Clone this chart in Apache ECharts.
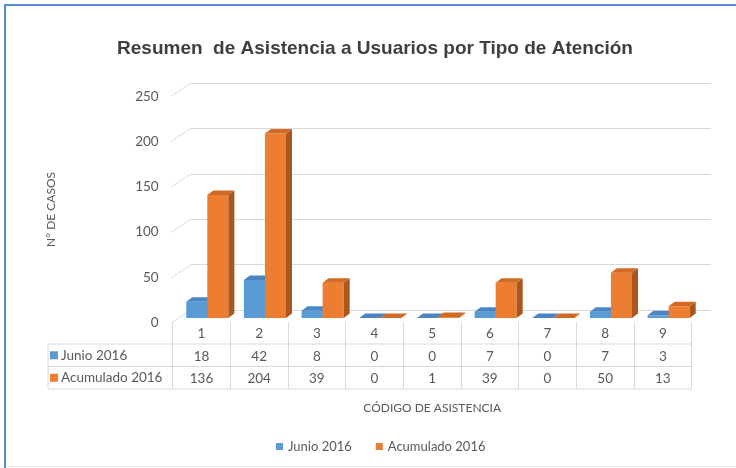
<!DOCTYPE html>
<html>
<head>
<meta charset="utf-8">
<script src="https://cdn.jsdelivr.net/npm/echarts@6/dist/echarts.min.js"></script>
<style>
  html, body { margin: 0; padding: 0; background: #fff; }
  #chart { width: 736px; height: 468px; }
</style>
</head>
<body>
<div id="chart"></div>
<script>
const codigos = ["1", "2", "3", "4", "5", "6", "7", "8", "9"];
const seriesNames = ["Junio 2016", "Acumulado 2016"];
const junio = [18, 42, 8, 0, 0, 7, 0, 7, 3];
const acumulado = [136, 204, 39, 0, 1, 39, 0, 50, 13];
const yTicks = [0, 50, 100, 150, 200, 250];

const faceColors = [
  { front: "#5b9bd5", top: "#4a86c4", side: "#3e6f9f" },
  { front: "#ed7d31", top: "#d06a25", side: "#a9561f" },
];
const textColor = "#595959";
const gridColor = "#d9d9d9";

// perspectiva 3D (desplazamiento de profundidad)
const DX = 6, DY = -4.5;

function bar3d(sIdx) {
  return function (params, api) {
    const i = api.value(0), v = api.value(1);
    const base = api.coord([i, 0]);
    const top = api.coord([i, v]);
    const bw = api.size([1, 0])[0];
    const w = bw * 0.365;
    const x0 = base[0] - bw * 0.265 + sIdx * w;
    const x1 = x0 + w;
    const c = faceColors[sIdx];
    return {
      type: "group",
      children: [
        { type: "rect", shape: { x: x0, y: top[1], width: w, height: base[1] - top[1] }, style: { fill: c.front } },
        { type: "polygon", shape: { points: [[x1, top[1]], [x1 + DX, top[1] + DY], [x1 + DX, base[1] + DY], [x1, base[1]]] }, style: { fill: c.side } },
        { type: "polygon", shape: { points: [[x0, top[1]], [x1, top[1]], [x1 + DX, top[1] + DY], [x0 + DX, top[1] + DY]] }, style: { fill: c.top } },
      ],
    };
  };
}

// líneas diagonales de la pared izquierda
function wallLine(params, api) {
  const p = api.coord([0, api.value(0)]);
  return {
    type: "line",
    shape: { x1: p[0] - 19.5, y1: p[1] + 13, x2: p[0], y2: p[1] },
    style: { stroke: gridColor, lineWidth: 1 },
  };
}

const tableLeft = 48, tableRight = 691.7;
const rowY = [344, 366.5, 389];

const graphics = [
  // marco azul
  { type: "rect", shape: { x: 5, y: 5, width: 740, height: 470 }, style: { fill: null, stroke: "#5a8bd0", lineWidth: 2 } },
  { type: "line", shape: { x1: 6, y1: 466.5, x2: 736, y2: 466.5 }, style: { stroke: "#e8e8e8", lineWidth: 1 } },
  { type: "line", shape: { x1: tableLeft, y1: rowY[0], x2: tableLeft, y2: rowY[2] }, style: { stroke: gridColor } },
];
rowY.forEach((y) => {
  graphics.push({ type: "line", shape: { x1: tableLeft, y1: y, x2: tableRight, y2: y }, style: { stroke: gridColor } });
});
seriesNames.forEach((name, k) => {
  const cy = (rowY[k] + rowY[k + 1]) / 2;
  graphics.push({ type: "rect", shape: { x: 50, y: cy - 4, width: 8, height: 8 }, style: { fill: faceColors[k].front } });
  graphics.push({
    type: "text", x: 61, y: cy,
    style: { text: name, fill: textColor, font: "13.5px Lato", verticalAlign: "middle" },
  });
});

const chart = echarts.init(document.getElementById("chart"));
chart.setOption({
  backgroundColor: "#fff",
  animation: false,
  title: {
    text: "Resumen  de Asistencia a Usuarios por Tipo de Atención",
    left: 370, top: 34, textAlign: "center",
    textStyle: { fontFamily: "Liberation Sans", fontSize: 19, fontWeight: "bold", color: "#3f3f3f" },
  },
  legend: {
    data: seriesNames,
    left: 271, top: 435,
    icon: "rect", itemWidth: 7, itemHeight: 7, itemGap: 24,
    textStyle: { fontFamily: "Lato", fontSize: 13, color: textColor },
  },
  grid: [
    { left: 172.7, right: 44.3, top: 96.5, bottom: 145.5 }, // etiquetas + tabla
    { left: 172.7, right: 44.3, top: 92, bottom: 150 },     // barras
    { left: 191, right: 25, top: 83, bottom: 158 },          // pared del fondo
  ],
  xAxis: [
    {
      gridIndex: 0, type: "category", data: codigos,
      name: "CÓDIGO DE ASISTENCIA", nameLocation: "middle", nameGap: 80,
      nameTextStyle: { fontFamily: "Lato", fontSize: 12, color: textColor },
      axisLine: { show: false },
      axisTick: { show: true, length: 66.5, inside: false, lineStyle: { color: gridColor } },
      axisLabel: {
        margin: 0, interval: 0, lineHeight: 22.5,
        fontFamily: "Lato", fontSize: 13.5, color: textColor, verticalAlign: "top",
        formatter: (val, idx) => val + "\n" + junio[idx] + "\n" + acumulado[idx],
      },
    },
    { gridIndex: 1, type: "category", data: codigos, show: false },
    { gridIndex: 2, type: "value", min: 0, max: 1, show: false },
  ],
  yAxis: [
    {
      gridIndex: 0, type: "value", min: 0, max: 250, interval: 50,
      name: "N° DE CASOS", nameLocation: "middle", nameGap: 116, nameRotate: 90,
      nameTextStyle: { fontFamily: "Lato", fontSize: 12, color: textColor },
      axisLine: { show: false }, axisTick: { show: false }, splitLine: { show: false },
      axisLabel: { margin: 14, fontFamily: "Lato", fontSize: 13.5, color: textColor },
    },
    { gridIndex: 1, type: "value", min: 0, max: 250, show: false, splitLine: { show: false } },
    {
      gridIndex: 2, type: "value", min: 0, max: 250, interval: 50,
      axisLine: { show: false }, axisTick: { show: false }, axisLabel: { show: false },
      splitLine: { show: true, lineStyle: { color: gridColor, width: 1 } },
    },
  ],
  series: [
    {
      type: "custom", name: "pared", xAxisIndex: 2, yAxisIndex: 2, silent: true,
      renderItem: wallLine, data: yTicks.map((v) => [v]),
    },
    {
      type: "custom", name: seriesNames[0], xAxisIndex: 1, yAxisIndex: 1,
      itemStyle: { color: faceColors[0].front },
      renderItem: bar3d(0), data: junio.map((v, i) => [i, v]),
    },
    {
      type: "custom", name: seriesNames[1], xAxisIndex: 1, yAxisIndex: 1,
      itemStyle: { color: faceColors[1].front },
      renderItem: bar3d(1), data: acumulado.map((v, i) => [i, v]),
    },
  ],
  graphic: graphics,
});
</script>
</body>
</html>
